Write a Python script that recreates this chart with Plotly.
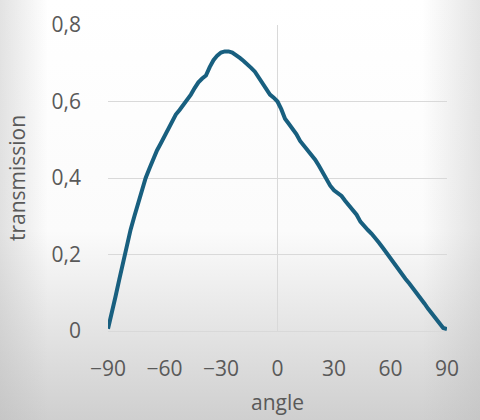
import base64
import plotly.graph_objects as go

# ---- data ----
angle = [-90, -88, -86, -84, -82, -80, -78, -76, -74, -72, -70, -68, -66, -64, -62, -60,
         -58, -56, -54, -52, -50, -48, -46, -44, -42, -40, -38, -36, -34, -32, -30, -28,
         -26, -24, -22, -20, -18, -16, -14, -12, -10, -8, -6, -4, -2, 0, 2, 4, 6, 8, 10,
         12, 14, 16, 18, 20, 22, 24, 26, 28, 30, 32, 34, 36, 38, 40, 42, 44, 46, 48, 50,
         52, 54, 56, 58, 60, 62, 64, 66, 68, 70, 72, 74, 76, 78, 80, 82, 84, 86, 88, 90]
transmission = [0.006, 0.045, 0.09, 0.135, 0.18, 0.225, 0.265, 0.30, 0.335, 0.37, 0.40,
                0.425, 0.45, 0.472, 0.49, 0.51, 0.53, 0.548, 0.566, 0.578, 0.59, 0.602,
                0.618, 0.635, 0.65, 0.66, 0.668, 0.69, 0.708, 0.72, 0.728, 0.731, 0.731,
                0.728, 0.722, 0.714, 0.706, 0.698, 0.688, 0.678, 0.664, 0.65, 0.632, 0.618,
                0.61, 0.60, 0.58, 0.555, 0.542, 0.53, 0.515, 0.497, 0.485, 0.475, 0.463,
                0.448, 0.432, 0.414, 0.396, 0.38, 0.368, 0.362, 0.353, 0.34, 0.327, 0.317,
                0.304, 0.286, 0.273, 0.264, 0.254, 0.243, 0.23, 0.217, 0.203, 0.19, 0.176,
                0.162, 0.149, 0.136, 0.124, 0.112, 0.098, 0.085, 0.072, 0.058, 0.045,
                0.032, 0.018, 0.008, 0.005]
x_tickvals = [-90, -60, -30, 0, 30, 60, 90]
x_ticktext = ["\u221290", "\u221260", "\u221230", "0", "30", "60", "90"]
y_tickvals = [0, 0.2, 0.4, 0.6, 0.8]
y_ticktext = ["0", "0,2", "0,4", "0,6", "0,8"]

W, H = 480, 420
L, R, T, B = 108, 33, 25, 89
pw, ph = W - L - R, H - T - B

svg = f'''<svg xmlns="http://www.w3.org/2000/svg" width="{W}" height="{H}" viewBox="0 0 {W} {H}">
<defs>
<linearGradient id="v" x1="0" y1="0" x2="0" y2="1">
<stop offset="0" stop-color="#ffffff"/>
<stop offset="0.55" stop-color="#fbfbfb"/>
<stop offset="1" stop-color="#cfcfcf"/>
</linearGradient>
<linearGradient id="h" x1="0" y1="0" x2="1" y2="0">
<stop offset="0" stop-color="#b8b8b8" stop-opacity="0.4"/>
<stop offset="0.1" stop-color="#b8b8b8" stop-opacity="0"/>
<stop offset="0.88" stop-color="#b8b8b8" stop-opacity="0"/>
<stop offset="1" stop-color="#b8b8b8" stop-opacity="0.38"/>
</linearGradient>
</defs>
<rect x="0" y="0" width="{W}" height="{H}" fill="url(#v)"/>
<rect x="0" y="0" width="{W}" height="{H}" fill="url(#h)"/>
</svg>'''
bg_src = "data:image/svg+xml;base64," + base64.b64encode(svg.encode()).decode()

font_family = "Open Sans, Lato, sans-serif"
txt_color = "#595959"
grid_color = "#d9d9d9"
fsize = 21

fig = go.Figure()
fig.add_trace(go.Scatter(
    x=angle, y=transmission, mode="lines",
    line=dict(color="#185f7f", width=4),
    hoverinfo="skip", showlegend=False,
))

fig.update_layout(
    width=W, height=H,
    margin=dict(l=L, r=R, t=T, b=B, pad=0),
    paper_bgcolor="white",
    plot_bgcolor="rgba(0,0,0,0)",
    font=dict(family=font_family, color=txt_color, size=fsize),
    images=[dict(
        source=bg_src, xref="paper", yref="paper",
        x=-L / pw, y=1 + T / ph, sizex=W / pw, sizey=H / ph,
        xanchor="left", yanchor="top", sizing="stretch", layer="below",
    )],
    xaxis=dict(
        range=[-90, 90], tickmode="array", tickvals=x_tickvals, ticktext=x_ticktext,
        showgrid=False, zeroline=True, zerolinecolor=grid_color, zerolinewidth=1,
        showline=False, ticks="", ticklabelstandoff=23,
        tickfont=dict(size=fsize, color=txt_color),
        title=dict(text="angle", font=dict(size=fsize, color=txt_color), standoff=14),
        automargin=False,
    ),
    yaxis=dict(
        range=[0, 0.8], tickmode="array", tickvals=y_tickvals, ticktext=y_ticktext,
        showgrid=True, gridcolor=grid_color, gridwidth=1,
        zeroline=True, zerolinecolor=grid_color, zerolinewidth=1,
        showline=False, ticks="", ticklabelstandoff=26,
        tickfont=dict(size=fsize, color=txt_color),
        title=dict(text="transmission", font=dict(size=fsize, color=txt_color), standoff=20),
        automargin=False,
    ),
)

fig.write_html("out.html")
